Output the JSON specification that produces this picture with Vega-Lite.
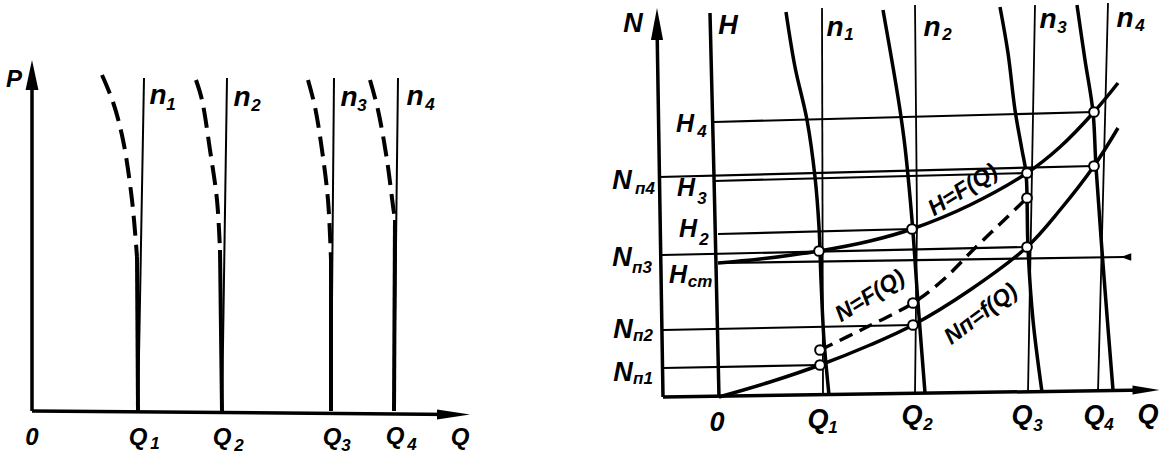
{
 "$schema": "https://vega.github.io/schema/vega-lite/v6.json",
 "padding": 0,
 "background": "white",
 "spacing": 20,
 "config": {
  "view": {"stroke": null},
  "text": {"font": "Liberation Sans", "fontStyle": "italic", "fontWeight": "bold", "align": "center", "baseline": "middle", "color": "black"},
  "line": {"strokeCap": "butt", "strokeJoin": "round", "color": "black"}
 },
 "datasets": {
  "lines": [
   {"p":"L","id":"a1","k":"axis","o":0,"x":0,"y":0},{"p":"L","id":"a1","k":"axis","o":1,"x":0,"y":336},
   {"p":"L","id":"a2","k":"axis","o":0,"x":0,"y":0},{"p":"L","id":"a2","k":"axis","o":1,"x":421,"y":-3.5},
   {"p":"L","id":"t1","k":"thin","o":0,"x":112,"y":333},{"p":"L","id":"t1","k":"thin","o":1,"x":106,"y":0},
   {"p":"L","id":"t2","k":"thin","o":0,"x":195,"y":333},{"p":"L","id":"t2","k":"thin","o":1,"x":190,"y":0},
   {"p":"L","id":"t3","k":"thin","o":0,"x":302,"y":333},{"p":"L","id":"t3","k":"thin","o":1,"x":299,"y":0},
   {"p":"L","id":"t4","k":"thin","o":0,"x":366,"y":333},{"p":"L","id":"t4","k":"thin","o":1,"x":362,"y":0},
   {"p":"L","id":"d1","k":"dash","o":0,"x":70,"y":336},{"p":"L","id":"d1","k":"dash","o":1,"x":81,"y":309},{"p":"L","id":"d1","k":"dash","o":2,"x":91,"y":271},{"p":"L","id":"d1","k":"dash","o":3,"x":100,"y":211},{"p":"L","id":"d1","k":"dash","o":4,"x":105,"y":154},
   {"p":"L","id":"d2","k":"dash","o":0,"x":164,"y":331},{"p":"L","id":"d2","k":"dash","o":1,"x":170,"y":311},{"p":"L","id":"d2","k":"dash","o":2,"x":178,"y":261},{"p":"L","id":"d2","k":"dash","o":3,"x":185,"y":211},{"p":"L","id":"d2","k":"dash","o":4,"x":188,"y":161},
   {"p":"L","id":"d3","k":"dash","o":0,"x":276,"y":331},{"p":"L","id":"d3","k":"dash","o":1,"x":283,"y":304},{"p":"L","id":"d3","k":"dash","o":2,"x":290,"y":261},{"p":"L","id":"d3","k":"dash","o":3,"x":296,"y":211},{"p":"L","id":"d3","k":"dash","o":4,"x":299,"y":151},
   {"p":"L","id":"d4","k":"dash","o":0,"x":338,"y":331},{"p":"L","id":"d4","k":"dash","o":1,"x":346,"y":301},{"p":"L","id":"d4","k":"dash","o":2,"x":355,"y":251},{"p":"L","id":"d4","k":"dash","o":3,"x":361,"y":205},{"p":"L","id":"d4","k":"dash","o":4,"x":363,"y":191},
   {"p":"L","id":"s1","k":"thick","o":0,"x":105,"y":154},{"p":"L","id":"s1","k":"thick","o":1,"x":106,"y":0},
   {"p":"L","id":"s2","k":"thick","o":0,"x":188,"y":161},{"p":"L","id":"s2","k":"thick","o":1,"x":190,"y":0},
   {"p":"L","id":"s3","k":"thick","o":0,"x":299,"y":151},{"p":"L","id":"s3","k":"thick","o":1,"x":299,"y":0},
   {"p":"L","id":"s4","k":"thick","o":0,"x":363,"y":191},{"p":"L","id":"s4","k":"thick","o":1,"x":362,"y":0},

   {"p":"R","id":"A1","k":"axis","o":0,"x":-56,"y":0},{"p":"R","id":"A1","k":"axis","o":1,"x":-62,"y":373},
   {"p":"R","id":"A2","k":"axis","o":0,"x":-56,"y":0},{"p":"R","id":"A2","k":"axis","o":1,"x":427,"y":7},
   {"p":"R","id":"AH","k":"axis","o":0,"x":0,"y":0},{"p":"R","id":"AH","k":"axis","o":1,"x":-5,"y":220},{"p":"R","id":"AH","k":"axis","o":2,"x":-9,"y":384},
   {"p":"R","id":"T1","k":"thin","o":0,"x":103,"y":389},{"p":"R","id":"T1","k":"thin","o":1,"x":104,"y":2},
   {"p":"R","id":"T2","k":"thin","o":0,"x":196,"y":392},{"p":"R","id":"T2","k":"thin","o":1,"x":198,"y":177},{"p":"R","id":"T2","k":"thin","o":2,"x":196,"y":4},
   {"p":"R","id":"T3","k":"thin","o":0,"x":316,"y":392},{"p":"R","id":"T3","k":"thin","o":1,"x":309,"y":5},
   {"p":"R","id":"T4","k":"thin","o":0,"x":389,"y":394},{"p":"R","id":"T4","k":"thin","o":1,"x":379,"y":5},
   {"p":"R","id":"C1","k":"thick","o":0,"x":67,"y":385},{"p":"R","id":"C1","k":"thick","o":1,"x":76,"y":330},{"p":"R","id":"C1","k":"thick","o":2,"x":88,"y":277},{"p":"R","id":"C1","k":"thick","o":3,"x":96,"y":220},{"p":"R","id":"C1","k":"thick","o":4,"x":100,"y":170},{"p":"R","id":"C1","k":"thick","o":5,"x":102,"y":117},{"p":"R","id":"C1","k":"thick","o":6,"x":105,"y":57},{"p":"R","id":"C1","k":"thick","o":7,"x":110,"y":2},
   {"p":"R","id":"C2","k":"thick","o":0,"x":164,"y":387},{"p":"R","id":"C2","k":"thick","o":1,"x":174,"y":330},{"p":"R","id":"C2","k":"thick","o":2,"x":181,"y":287},{"p":"R","id":"C2","k":"thick","o":3,"x":186,"y":250},{"p":"R","id":"C2","k":"thick","o":4,"x":193,"y":177},{"p":"R","id":"C2","k":"thick","o":5,"x":199,"y":94},{"p":"R","id":"C2","k":"thick","o":6,"x":206,"y":4},
   {"p":"R","id":"C3","k":"thick","o":0,"x":281,"y":390},{"p":"R","id":"C3","k":"thick","o":1,"x":289,"y":344},{"p":"R","id":"C3","k":"thick","o":2,"x":296,"y":287},{"p":"R","id":"C3","k":"thick","o":3,"x":303,"y":247},{"p":"R","id":"C3","k":"thick","o":4,"x":307,"y":224},{"p":"R","id":"C3","k":"thick","o":5,"x":309,"y":149},{"p":"R","id":"C3","k":"thick","o":6,"x":314,"y":77},{"p":"R","id":"C3","k":"thick","o":7,"x":323,"y":5},
   {"p":"R","id":"C4","k":"thick","o":0,"x":358,"y":392},{"p":"R","id":"C4","k":"thick","o":1,"x":366,"y":337},{"p":"R","id":"C4","k":"thick","o":2,"x":374,"y":285},{"p":"R","id":"C4","k":"thick","o":3,"x":377,"y":230},{"p":"R","id":"C4","k":"thick","o":4,"x":385,"y":120},{"p":"R","id":"C4","k":"thick","o":5,"x":394,"y":7},
   {"p":"R","id":"HQ","k":"thick","o":0,"x":-1,"y":134},{"p":"R","id":"HQ","k":"thick","o":1,"x":41,"y":138},{"p":"R","id":"HQ","k":"thick","o":2,"x":100,"y":146},{"p":"R","id":"HQ","k":"thick","o":3,"x":151,"y":156},{"p":"R","id":"HQ","k":"thick","o":4,"x":193,"y":168},{"p":"R","id":"HQ","k":"thick","o":5,"x":251,"y":192},{"p":"R","id":"HQ","k":"thick","o":6,"x":308,"y":224},{"p":"R","id":"HQ","k":"thick","o":7,"x":341,"y":250},{"p":"R","id":"HQ","k":"thick","o":8,"x":375,"y":285},{"p":"R","id":"HQ","k":"thick","o":9,"x":399,"y":314},
   {"p":"R","id":"NQ","k":"thick","o":0,"x":0,"y":0},{"p":"R","id":"NQ","k":"thick","o":1,"x":51,"y":15},{"p":"R","id":"NQ","k":"thick","o":2,"x":101,"y":32},{"p":"R","id":"NQ","k":"thick","o":3,"x":151,"y":52},{"p":"R","id":"NQ","k":"thick","o":4,"x":194,"y":72},{"p":"R","id":"NQ","k":"thick","o":5,"x":251,"y":107},{"p":"R","id":"NQ","k":"thick","o":6,"x":308,"y":150},{"p":"R","id":"NQ","k":"thick","o":7,"x":341,"y":187},{"p":"R","id":"NQ","k":"thick","o":8,"x":375,"y":231},{"p":"R","id":"NQ","k":"thick","o":9,"x":399,"y":269},
   {"p":"R","id":"NF","k":"dash","o":0,"x":101,"y":47},{"p":"R","id":"NF","k":"dash","o":1,"x":146,"y":69},{"p":"R","id":"NF","k":"dash","o":2,"x":194,"y":94},{"p":"R","id":"NF","k":"dash","o":3,"x":224,"y":117},{"p":"R","id":"NF","k":"dash","o":4,"x":254,"y":147},{"p":"R","id":"NF","k":"dash","o":5,"x":281,"y":173},{"p":"R","id":"NF","k":"dash","o":6,"x":308,"y":199},
   {"p":"R","id":"h1","k":"hline","o":0,"x":-5,"y":275},{"p":"R","id":"h1","k":"hline","o":1,"x":375,"y":285},
   {"p":"R","id":"h2","k":"hline","o":0,"x":-60,"y":220},{"p":"R","id":"h2","k":"hline","o":1,"x":375,"y":231},
   {"p":"R","id":"h3","k":"hline","o":0,"x":-5,"y":216},{"p":"R","id":"h3","k":"hline","o":1,"x":308,"y":224},
   {"p":"R","id":"h4","k":"hline","o":0,"x":-1,"y":163},{"p":"R","id":"h4","k":"hline","o":1,"x":193,"y":168},
   {"p":"R","id":"h5","k":"hline","o":0,"x":-57,"y":142},{"p":"R","id":"h5","k":"hline","o":1,"x":308,"y":150},
   {"p":"R","id":"h6","k":"hline","o":0,"x":-1,"y":134},{"p":"R","id":"h6","k":"hline","o":1,"x":405,"y":140},
   {"p":"R","id":"h7","k":"hline","o":0,"x":-56,"y":67},{"p":"R","id":"h7","k":"hline","o":1,"x":194,"y":72},
   {"p":"R","id":"h8","k":"hline","o":0,"x":-56,"y":29},{"p":"R","id":"h8","k":"hline","o":1,"x":101,"y":32}
  ],
  "pts": [
   {"x":100,"y":146},{"x":193,"y":168},{"x":308,"y":224},{"x":375,"y":285},
   {"x":101,"y":47},{"x":194,"y":94},{"x":308,"y":199},
   {"x":101,"y":32},{"x":194,"y":72},{"x":308,"y":150},{"x":375,"y":231}
  ],
  "arrows": [
   {"p":"L","k":"up","x":0,"y":336},{"p":"L","k":"right","x":421.5,"y":-3.5},
   {"p":"R","k":"up","x":-62,"y":373},{"p":"R","k":"right","x":427,"y":7},{"p":"R","k":"left","x":407,"y":140}
  ],
  "labels": [
   {"p":"L","k":"b","t":"P","x":-18,"y":331},
   {"p":"L","k":"n","t":"n","x":126,"y":315},{"p":"L","k":"s","t":"1","x":139,"y":306},
   {"p":"L","k":"n","t":"n","x":210,"y":313},{"p":"L","k":"s","t":"2","x":224,"y":305},
   {"p":"L","k":"n","t":"n","x":317,"y":313},{"p":"L","k":"s","t":"3","x":330,"y":305},
   {"p":"L","k":"n","t":"n","x":383,"y":314},{"p":"L","k":"s","t":"4","x":398,"y":306},
   {"p":"L","k":"b","t":"0","x":0,"y":-27},
   {"p":"L","k":"b","t":"Q","x":106,"y":-27},{"p":"L","k":"s","t":"1","x":123,"y":-33},
   {"p":"L","k":"b","t":"Q","x":190,"y":-27},{"p":"L","k":"s","t":"2","x":207,"y":-35},
   {"p":"L","k":"b","t":"Q","x":300,"y":-27},{"p":"L","k":"s","t":"3","x":314,"y":-35},
   {"p":"L","k":"b","t":"Q","x":363,"y":-26},{"p":"L","k":"s","t":"4","x":380,"y":-34},
   {"p":"L","k":"b","t":"Q","x":428,"y":-27},

   {"p":"R","k":"b","t":"N","x":-86,"y":373},
   {"p":"R","k":"b","t":"H","x":9,"y":371},
   {"p":"R","k":"n","t":"n","x":116,"y":369},{"p":"R","k":"s","t":"1","x":130,"y":362},
   {"p":"R","k":"n","t":"n","x":213,"y":369},{"p":"R","k":"s","t":"2","x":228,"y":362},
   {"p":"R","k":"n","t":"n","x":329,"y":377},{"p":"R","k":"s","t":"3","x":343,"y":369},
   {"p":"R","k":"n","t":"n","x":406,"y":378},{"p":"R","k":"s","t":"4","x":421,"y":371},
   {"p":"R","k":"h","t":"H","x":-34,"y":273},{"p":"R","k":"s","t":"4","x":-17,"y":265},
   {"p":"R","k":"b","t":"N","x":-97,"y":216},{"p":"R","k":"s","t":"п4","x":-74,"y":208},
   {"p":"R","k":"h","t":"H","x":-33,"y":209},{"p":"R","k":"s","t":"3","x":-17,"y":198},
   {"p":"R","k":"h","t":"H","x":-31,"y":168},{"p":"R","k":"s","t":"2","x":-15,"y":157},
   {"p":"R","k":"b","t":"N","x":-97,"y":139},{"p":"R","k":"s","t":"п3","x":-77,"y":129},
   {"p":"R","k":"h","t":"H","x":-41,"y":122},{"p":"R","k":"s","t":"ст","x":-19,"y":115},
   {"p":"R","k":"b","t":"N","x":-96,"y":67},{"p":"R","k":"s","t":"п2","x":-76,"y":61},
   {"p":"R","k":"b","t":"N","x":-96,"y":24},{"p":"R","k":"s","t":"п1","x":-76,"y":18},
   {"p":"R","k":"b","t":"0","x":-2,"y":-26},
   {"p":"R","k":"b","t":"Q","x":99,"y":-23},{"p":"R","k":"s","t":"1","x":114,"y":-31},
   {"p":"R","k":"b","t":"Q","x":193,"y":-19},{"p":"R","k":"s","t":"2","x":209,"y":-28},
   {"p":"R","k":"b","t":"Q","x":303,"y":-19},{"p":"R","k":"s","t":"3","x":319,"y":-29},
   {"p":"R","k":"b","t":"Q","x":375,"y":-19},{"p":"R","k":"s","t":"4","x":390,"y":-28},
   {"p":"R","k":"b","t":"Q","x":429,"y":-18},
   {"p":"R","k":"r1","t":"H=F(Q)","x":244,"y":207},
   {"p":"R","k":"r1","t":"N=F(Q)","x":151,"y":101},
   {"p":"R","k":"r2","t":"Nп=f(Q)","x":262,"y":83}
  ]
 },
 "hconcat": [
  {
   "width": 560, "height": 468,
   "encoding": {
    "x": {"field":"x","type":"quantitative","scale":{"domain":[-32,528],"nice":false,"zero":false},"axis":null},
    "y": {"field":"y","type":"quantitative","scale":{"domain":[-57,411],"nice":false,"zero":false},"axis":null}
   },
   "layer": [
    {"data":{"name":"lines"},"transform":[{"filter":"datum.p==='L' && datum.k==='thin'"}],"mark":{"type":"line","strokeWidth":2},"encoding":{"detail":{"field":"id","type":"nominal"},"order":{"field":"o","type":"quantitative"}}},
    {"data":{"name":"lines"},"transform":[{"filter":"datum.p==='L' && datum.k==='axis'"}],"mark":{"type":"line","strokeWidth":3.5},"encoding":{"detail":{"field":"id","type":"nominal"},"order":{"field":"o","type":"quantitative"}}},
    {"data":{"name":"lines"},"transform":[{"filter":"datum.p==='L' && datum.k==='dash'"}],"mark":{"type":"line","strokeWidth":4,"strokeDash":[20,9],"interpolate":"catmull-rom"},"encoding":{"detail":{"field":"id","type":"nominal"},"order":{"field":"o","type":"quantitative"}}},
    {"data":{"name":"lines"},"transform":[{"filter":"datum.p==='L' && datum.k==='thick'"}],"mark":{"type":"line","strokeWidth":4},"encoding":{"detail":{"field":"id","type":"nominal"},"order":{"field":"o","type":"quantitative"}}},
    {"data":{"name":"arrows"},"transform":[{"filter":"datum.p==='L' && datum.k==='up'"}],"mark":{"type":"point","shape":"M0,-1L0.43,1L-0.43,1Z","size":900,"filled":true,"fill":"black","stroke":null,"opacity":1}},
    {"data":{"name":"arrows"},"transform":[{"filter":"datum.p==='L' && datum.k==='right'"}],"mark":{"type":"point","shape":"M1,0L-1,0.3L-1,-0.3Z","size":1089,"filled":true,"fill":"black","stroke":null,"opacity":1}},
    {"data":{"name":"labels"},"transform":[{"filter":"datum.p==='L' && datum.k==='b'"}],"mark":{"type":"text","fontSize":24},"encoding":{"text":{"field":"t"}}},
    {"data":{"name":"labels"},"transform":[{"filter":"datum.p==='L' && datum.k==='n'"}],"mark":{"type":"text","fontSize":28},"encoding":{"text":{"field":"t"}}},
    {"data":{"name":"labels"},"transform":[{"filter":"datum.p==='L' && datum.k==='s'"}],"mark":{"type":"text","fontSize":17},"encoding":{"text":{"field":"t"}}}
   ]
  },
  {
   "width": 591, "height": 468,
   "encoding": {
    "x": {"field":"x","type":"quantitative","scale":{"domain":[-139,452],"nice":false,"zero":false},"axis":null},
    "y": {"field":"y","type":"quantitative","scale":{"domain":[-71,397],"nice":false,"zero":false},"axis":null}
   },
   "layer": [
    {"data":{"name":"lines"},"transform":[{"filter":"datum.p==='R' && datum.k==='thin'"}],"mark":{"type":"line","strokeWidth":1.8},"encoding":{"detail":{"field":"id","type":"nominal"},"order":{"field":"o","type":"quantitative"}}},
    {"data":{"name":"lines"},"transform":[{"filter":"datum.p==='R' && datum.k==='hline'"}],"mark":{"type":"line","strokeWidth":2.2},"encoding":{"detail":{"field":"id","type":"nominal"},"order":{"field":"o","type":"quantitative"}}},
    {"data":{"name":"lines"},"transform":[{"filter":"datum.p==='R' && datum.k==='axis'"}],"mark":{"type":"line","strokeWidth":3.5},"encoding":{"detail":{"field":"id","type":"nominal"},"order":{"field":"o","type":"quantitative"}}},
    {"data":{"name":"lines"},"transform":[{"filter":"datum.p==='R' && datum.k==='thick'"}],"mark":{"type":"line","strokeWidth":3.5,"interpolate":"catmull-rom"},"encoding":{"detail":{"field":"id","type":"nominal"},"order":{"field":"o","type":"quantitative"}}},
    {"data":{"name":"lines"},"transform":[{"filter":"datum.p==='R' && datum.k==='dash'"}],"mark":{"type":"line","strokeWidth":3.5,"strokeDash":[14,8],"interpolate":"catmull-rom"},"encoding":{"detail":{"field":"id","type":"nominal"},"order":{"field":"o","type":"quantitative"}}},
    {"data":{"name":"pts"},"mark":{"type":"point","shape":"circle","size":95,"filled":true,"fill":"white","stroke":"black","strokeWidth":2,"opacity":1}},
    {"data":{"name":"arrows"},"transform":[{"filter":"datum.p==='R' && datum.k==='up'"}],"mark":{"type":"point","shape":"M0,-1L0.38,1L-0.38,1Z","size":1024,"filled":true,"fill":"black","stroke":null,"opacity":1}},
    {"data":{"name":"arrows"},"transform":[{"filter":"datum.p==='R' && datum.k==='right'"}],"mark":{"type":"point","shape":"M1,0L-1,0.33L-1,-0.33Z","size":729,"filled":true,"fill":"black","stroke":null,"opacity":1}},
    {"data":{"name":"arrows"},"transform":[{"filter":"datum.p==='R' && datum.k==='left'"}],"mark":{"type":"point","shape":"M-1,0L1,-0.7L1,0.7Z","size":110,"filled":true,"fill":"black","stroke":null,"opacity":1}},
    {"data":{"name":"labels"},"transform":[{"filter":"datum.p==='R' && datum.k==='b'"}],"mark":{"type":"text","fontSize":27},"encoding":{"text":{"field":"t"}}},
    {"data":{"name":"labels"},"transform":[{"filter":"datum.p==='R' && datum.k==='h'"}],"mark":{"type":"text","fontSize":25},"encoding":{"text":{"field":"t"}}},
    {"data":{"name":"labels"},"transform":[{"filter":"datum.p==='R' && datum.k==='n'"}],"mark":{"type":"text","fontSize":28},"encoding":{"text":{"field":"t"}}},
    {"data":{"name":"labels"},"transform":[{"filter":"datum.p==='R' && datum.k==='s'"}],"mark":{"type":"text","fontSize":17},"encoding":{"text":{"field":"t"}}},
    {"data":{"name":"labels"},"transform":[{"filter":"datum.p==='R' && datum.k==='r1'"}],"mark":{"type":"text","fontSize":23,"angle":-32},"encoding":{"text":{"field":"t"}}},
    {"data":{"name":"labels"},"transform":[{"filter":"datum.p==='R' && datum.k==='r2'"}],"mark":{"type":"text","fontSize":23,"angle":-37},"encoding":{"text":{"field":"t"}}}
   ]
  }
 ]
}
